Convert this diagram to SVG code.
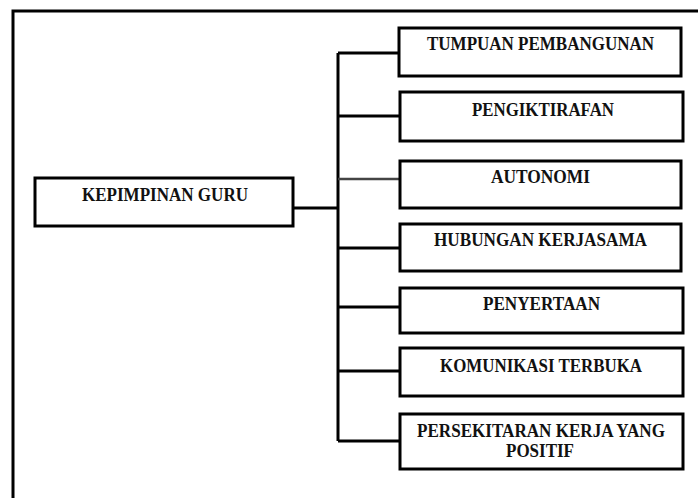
<svg xmlns="http://www.w3.org/2000/svg" width="698" height="498" viewBox="0 0 698 498">
<style>
.box{fill:#fff;stroke:#000;stroke-width:3}
.lbl{font-family:"Liberation Serif","Times New Roman",serif;font-weight:bold;font-size:18px;fill:#111;text-anchor:middle}
.con{fill:none;stroke:#000;stroke-width:3}
</style>
<rect x="0" y="0" width="698" height="498" fill="#fff"/>
<rect id="frame" x="13" y="11" width="700" height="500" fill="none" stroke="#000" stroke-width="3"/>
<g id="connectors">
<path class="con" d="M293 208H338M338 53V441M338 53H400M338 116H400M338 248H400M338 307H400M338 371H400M338 441H400"/>
<path d="M338 179H400" fill="none" stroke="#444" stroke-width="2.5"/>
</g>
<g id="kepimpinan"><rect class="box" x="35" y="178" width="258" height="48"/><text class="lbl" x="165" y="201" textLength="166" lengthAdjust="spacingAndGlyphs">KEPIMPINAN GURU</text></g>
<g id="tumpuan"><rect class="box" x="399" y="28" width="282" height="48"/><text class="lbl" x="540.5" y="50" textLength="227" lengthAdjust="spacingAndGlyphs">TUMPUAN PEMBANGUNAN</text></g>
<g id="pengiktirafan"><rect class="box" x="400" y="92" width="283" height="49"/><text class="lbl" x="543" y="116" textLength="142" lengthAdjust="spacingAndGlyphs">PENGIKTIRAFAN</text></g>
<g id="autonomi"><rect class="box" x="400" y="161" width="281" height="47"/><text class="lbl" x="540.5" y="183" textLength="99" lengthAdjust="spacingAndGlyphs">AUTONOMI</text></g>
<g id="hubungan"><rect class="box" x="400" y="224" width="281" height="47"/><text class="lbl" x="540.5" y="246" textLength="213" lengthAdjust="spacingAndGlyphs">HUBUNGAN KERJASAMA</text></g>
<g id="penyertaan"><rect class="box" x="400" y="288" width="283" height="45"/><text class="lbl" x="541.5" y="310" textLength="117" lengthAdjust="spacingAndGlyphs">PENYERTAAN</text></g>
<g id="komunikasi"><rect class="box" x="400" y="348" width="283" height="48"/><text class="lbl" x="541" y="372" textLength="202" lengthAdjust="spacingAndGlyphs">KOMUNIKASI TERBUKA</text></g>
<g id="persekitaran"><rect class="box" x="400" y="414" width="283" height="55"/><text class="lbl" x="541" y="437" textLength="248" lengthAdjust="spacingAndGlyphs">PERSEKITARAN KERJA YANG</text><text class="lbl" x="540" y="457" textLength="68" lengthAdjust="spacingAndGlyphs">POSITIF</text></g>
</svg>
